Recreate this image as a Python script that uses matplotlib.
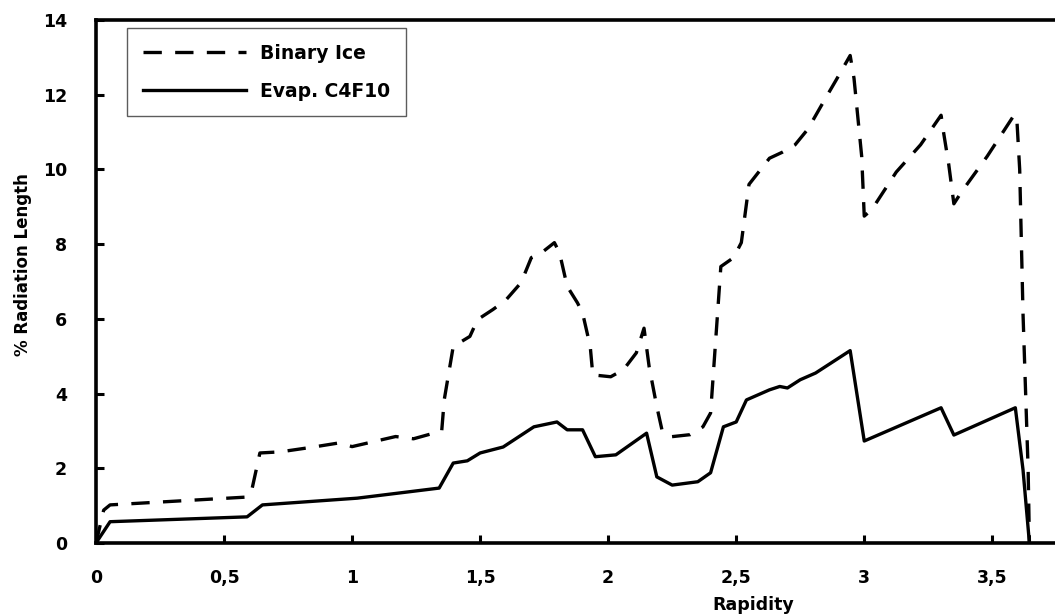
import matplotlib
matplotlib.use("Agg")
import matplotlib.pyplot as plt

# rapidity / radiation length
ice_x = [0.0, 0.03, 0.055, 0.59, 0.61, 0.64, 0.72, 0.85, 0.95, 1.0, 1.17, 1.24, 1.35,
         1.36, 1.395, 1.46, 1.49, 1.55, 1.60, 1.66, 1.70, 1.74, 1.79, 1.81, 1.84, 1.88,
         1.90, 1.93, 1.94, 2.01, 2.06, 2.11, 2.14, 2.16, 2.19, 2.21, 2.24, 2.32, 2.37,
         2.40, 2.42, 2.44, 2.49, 2.52, 2.55, 2.63, 2.68, 2.73, 2.78, 2.85, 2.89, 2.945,
         2.96, 2.99, 3.00, 3.03, 3.125, 3.22, 3.30, 3.31, 3.33, 3.35, 3.38, 3.48, 3.58,
         3.595, 3.607, 3.62, 3.64, 3.645]
ice_y = [0.0, 0.88, 1.02, 1.23, 1.47, 2.41, 2.44, 2.57, 2.68, 2.58, 2.85, 2.79, 3.0,
         3.84, 5.26, 5.53, 5.98, 6.25, 6.5, 6.97, 7.64, 7.77, 8.04, 7.77, 6.87, 6.43,
         6.16, 5.26, 4.5, 4.45, 4.64, 5.09, 5.75, 4.72, 3.65, 3.03, 2.84, 2.9, 3.11,
         3.48, 5.44, 7.4, 7.64, 8.04, 9.6, 10.3, 10.46, 10.66, 11.08, 11.92, 12.39, 13.05,
         12.44, 10.35, 8.75, 8.93, 9.93, 10.66, 11.45, 10.98, 10.13, 9.08, 9.4, 10.35, 11.4,
         11.45, 10.0, 6.14, 1.96, 0.0]

c4f10_x = [0.0, 0.055, 0.59, 0.65, 1.02, 1.34, 1.395, 1.45, 1.5, 1.59, 1.71, 1.80,
           1.84, 1.90, 1.95, 2.03, 2.15, 2.19, 2.25, 2.35, 2.40, 2.45, 2.50, 2.54,
           2.63, 2.67, 2.70, 2.75, 2.81, 2.945, 3.00, 3.30, 3.35, 3.59, 3.62, 3.645]
c4f10_y = [0.0, 0.57, 0.70, 1.02, 1.2, 1.47, 2.14, 2.2, 2.41, 2.57, 3.11, 3.24,
           3.03, 3.03, 2.31, 2.36, 2.94, 1.77, 1.55, 1.64, 1.88, 3.11, 3.24, 3.83,
           4.10, 4.19, 4.15, 4.37, 4.55, 5.15, 2.73, 3.62, 2.89, 3.62, 1.96, 0.0]

x_ticks = [0, 0.5, 1, 1.5, 2, 2.5, 3, 3.5]
x_tick_labels = ["0", "0,5", "1", "1,5", "2", "2,5", "3", "3,5"]
y_ticks = [0, 2, 4, 6, 8, 10, 12, 14]

plt.rcParams["font.family"] = ["DejaVu Sans"]
plt.rcParams["font.weight"] = "bold"

fig = plt.figure(figsize=(10.55, 6.15), dpi=100)
ax = fig.add_axes([96 / 1055, 1 - 543 / 615, 1 - 96 / 1055 + 0.01, (543 - 20) / 615])

ax.plot(ice_x, ice_y, color="black", lw=2.4, dashes=(5.5, 4.0), label="Binary Ice")
ax.plot(c4f10_x, c4f10_y, color="black", lw=2.4, label="Evap. C4F10")

ax.set_xlim(0, (1055 - 96) / 256 + 0.04)
ax.set_ylim(0, 14)
ax.set_xticks(x_ticks)
ax.set_xticklabels(x_tick_labels)
ax.set_yticks(y_ticks)
ax.tick_params(direction="in", length=6, width=2.2, labelsize=12.5)
ax.tick_params(axis="x", pad=19)
ax.tick_params(axis="y", pad=21)
for lab in ax.get_xticklabels() + ax.get_yticklabels():
    lab.set_fontweight("bold")

for side in ["left", "bottom", "top"]:
    ax.spines[side].set_linewidth(2.6)
ax.spines["right"].set_visible(False)

ax.set_xlabel("Rapidity", fontsize=12.5, fontweight="bold")
ax.xaxis.set_label_coords((746 - 96) / (1055 - 96), -0.102)
ax.set_ylabel("% Radiation Length", fontsize=12, fontweight="bold")
ax.yaxis.set_label_coords(-0.066, 0.532)

leg = ax.legend(loc="upper left", bbox_to_anchor=(0.0323, 0.985), frameon=True,
                fancybox=False, edgecolor="#333333", fontsize=13.5, handlelength=5.5,
                handletextpad=0.7, borderpad=0.85, labelspacing=1.0, borderaxespad=0)
leg.get_frame().set_linewidth(1.0)
for t in leg.get_texts():
    t.set_fontweight("bold")

fig.savefig("out.png", dpi=100)
